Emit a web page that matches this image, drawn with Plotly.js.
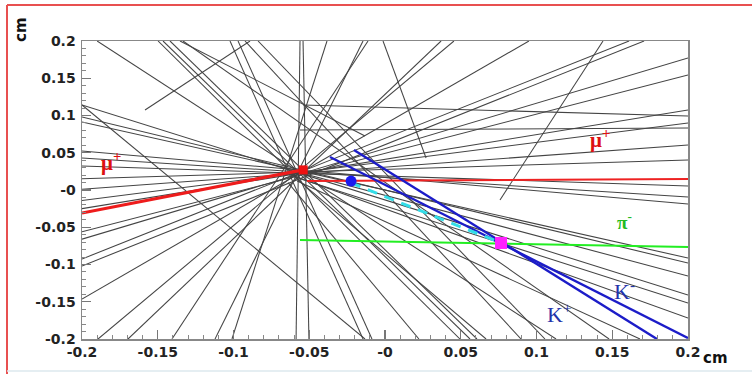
<!DOCTYPE html>
<html>
<head>
<meta charset="utf-8">
<script src="https://cdn.plot.ly/plotly-3.0.1.min.js"></script>
<style>html,body{margin:0;padding:0;background:#fff;}#chart{width:752px;height:374px;}</style>
</head>
<body>
<div id="chart"></div>
<script>
// Background tracks (black), each as a segment x0,y0 -> x1,y1 in cm
var trackX0 = [-0.2, -0.2, -0.2, -0.2, -0.2, -0.2, -0.2, -0.2, -0.2, -0.1894, -0.1696, -0.1406, -0.1010,
  -0.1498, -0.1465, -0.1419, -0.1023, -0.0970, -0.0924, -0.0838, -0.0561, -0.0541, -0.2, -0.2, -0.2, -0.190, -0.1333, -0.2, -0.2, -0.2, -0.2,
  -0.0891, -0.0013, 0.1439, -0.0541, -0.0561, -0.1353,
  -0.0620, -0.0560, -0.0600, -0.0640, -0.0540, -0.0580, -0.0145];
var trackY0 = [-0.1463, -0.1020, -0.0926, -0.0660, -0.0560, -0.0250, -0.0140, 0.0010, 0.0150, -0.2, -0.2, -0.2, -0.2,
  0.2, 0.2, 0.2, 0.2, 0.2, 0.2, 0.2, 0.2, 0.2, 0.1141, 0.0913, 0.0980, 0.2, 0.2, 0.0523, 0.0430, 0.0322, 0.1141,
  0.2, 0.2, 0.2, 0.1141, 0.0805, 0.2,
  0.0200, 0.0150, 0.0180, 0.0100, 0.0220, 0.0120, 0.2];
var trackX1 = [0.0950, 0.1710, 0.1611, 0.2, 0.2, 0.2, 0.2, 0.2, 0.2, 0.0455, 0.0370, -0.0112, -0.0383,
  0.0495, 0.0561, 0.0607, -0.0145, -0.0086, 0.0898, 0.1056, -0.0587, -0.0502, 0.2, 0.2, 0.2, 0.1129, 0.1479, 0.2, 0.2, 0.2, -0.0132,
  -0.1584, 0.0271, 0.0759, 0.2, 0.2, -0.0132,
  0.2, 0.2, 0.0667, 0.0224, 0.2, 0.1683, -0.1122];
var trackY1 = [0.2, 0.2, 0.2, 0.1772, 0.1544, 0.1074, 0.0899, 0.0604, 0.0403, 0.2, 0.2, 0.2, 0.2,
  -0.2, -0.2, -0.2, -0.2, -0.2, -0.2, -0.2, -0.2, -0.2, -0.1409, -0.0913, -0.0980, -0.2, -0.2, -0.0188, -0.0094, 0.0054, -0.2,
  0.1074, 0.0430, -0.0134, 0.0993, 0.0832, 0.0725,
  -0.1718, -0.1517, -0.2, -0.2, -0.1154, -0.2, -0.2];

// Identified tracks
var muLeftX = [-0.2, -0.054];
var muLeftY = [-0.0309, 0.027];
var muRightX = [-0.0515, 0.2];
var muRightY = [0.0121, 0.0148];
var kaon1X = [-0.0363, 0.2];
var kaon1Y = [0.0443, -0.1987];
var kaon2X = [-0.0205, 0.1795];
var kaon2Y = [0.0537, -0.2];
var flightX = [-0.0224, 0.0766];
var flightY = [0.0094, -0.0711];
var pionX = [-0.0561, 0.2];
var pionY = [-0.067, -0.0765];

// Vertices
var primaryVtx = [-0.054, 0.027];
var dVtx = [-0.0224, 0.012];
var decayVtx = [0.0766, -0.0711];

// Labels
var labelText = ['\u03bc<sup>+</sup>', '\u03bc<sup>+</sup>', '\u03c0<sup>-</sup>', 'K<sup>-</sup>', 'K<sup>+</sup>'];
var labelX = [-0.181, 0.142, 0.1584, 0.158, 0.1155];
var labelY = [0.038, 0.069, -0.042, -0.134, -0.165];

var tickVals = [-0.2, -0.15, -0.1, -0.05, 0, 0.05, 0.1, 0.15, 0.2];
var tickText = ['-0.2', '-0.15', '-0.1', '-0.05', '-0', '0.05', '0.1', '0.15', '0.2'];

var bx = [], by = [];
for (var i = 0; i < trackX0.length; i++) {
  bx.push(trackX0[i], trackX1[i], null);
  by.push(trackY0[i], trackY1[i], null);
}

var traces = [
  {x: bx, y: by, mode: 'lines', line: {color: '#444444', width: 1.05}, hoverinfo: 'skip', showlegend: false},
  {x: muLeftX, y: muLeftY, mode: 'lines', line: {color: '#ee1c1c', width: 3.2}, showlegend: false},
  {x: muRightX, y: muRightY, mode: 'lines', line: {color: '#ee2222', width: 2}, showlegend: false},
  {x: pionX, y: pionY, mode: 'lines', line: {color: '#22ee22', width: 2}, showlegend: false},
  {x: kaon1X, y: kaon1Y, mode: 'lines', line: {color: '#1c1cc8', width: 2.4}, showlegend: false},
  {x: kaon2X, y: kaon2Y, mode: 'lines', line: {color: '#1c1cc8', width: 2.4}, showlegend: false},
  {x: flightX, y: flightY, mode: 'lines', line: {color: '#33dde8', width: 3, dash: '10px,8px'}, showlegend: false},
  {x: [primaryVtx[0]], y: [primaryVtx[1]], mode: 'markers', marker: {color: '#ee1111', size: 9, symbol: 'square'}, showlegend: false},
  {x: [dVtx[0]], y: [dVtx[1]], mode: 'markers', marker: {color: '#1a1aee', size: 11, symbol: 'circle'}, showlegend: false},
  {x: [decayVtx[0]], y: [decayVtx[1]], mode: 'markers', marker: {color: '#ff22ff', size: 12, symbol: 'square'}, showlegend: false}
];

var labelColors = ['#dd1111', '#dd1111', '#22bb22', '#2233aa', '#2233aa'];
var labelSizes = [21, 21, 19, 22, 22];
var annotations = [];
for (var j = 0; j < labelText.length; j++) {
  annotations.push({x: labelX[j], y: labelY[j], xref: 'x', yref: 'y', xanchor: 'center', yanchor: 'middle',
    text: labelText[j], showarrow: false,
    font: {family: 'Liberation Serif', size: labelSizes[j], color: labelColors[j], weight: j < 3 ? 700 : 400}});
}
annotations.push({x: (21 - 82) / 606, y: (339 - 30) / 298, xref: 'paper', yref: 'paper', xanchor: 'center', yanchor: 'middle',
  text: 'cm', textangle: -90, showarrow: false, font: {family: 'DejaVu Sans', size: 15, color: '#111', weight: 700}});
annotations.push({x: (716 - 82) / 606, y: (339 - 358) / 298, xref: 'paper', yref: 'paper', xanchor: 'center', yanchor: 'middle',
  text: 'cm', showarrow: false, font: {family: 'DejaVu Sans', size: 15, color: '#111', weight: 700}});

var axisCommon = {
  range: [-0.2, 0.2], tickvals: tickVals, ticktext: tickText, ticks: 'inside', ticklen: 9, tickwidth: 1.2,
  tickcolor: '#777', showgrid: false, zeroline: false, showline: true, mirror: true, linecolor: '#888', linewidth: 1.5,
  tickfont: {family: 'DejaVu Sans', size: 14, color: '#222', weight: 700},
  minor: {dtick: 0.01, ticks: 'inside', ticklen: 4, tickcolor: '#888', tickwidth: 1}
};

var layout = {
  width: 752, height: 374,
  margin: {l: 82, r: 64, t: 41, b: 35},
  paper_bgcolor: '#ffffff', plot_bgcolor: '#ffffff',
  xaxis: Object.assign({}, axisCommon, {ticklabelstandoff: 0}),
  yaxis: Object.assign({}, axisCommon, {ticklabelstandoff: 2}),
  annotations: annotations,
  shapes: [
    {type: 'line', xref: 'paper', yref: 'paper', x0: (7 - 82) / 606, x1: (752 - 82) / 606, y0: (339 - 5) / 298, y1: (339 - 5) / 298,
      line: {color: '#e85050', width: 2}},
    {type: 'line', xref: 'paper', yref: 'paper', x0: (7 - 82) / 606, x1: (7 - 82) / 606, y0: (339 - 5) / 298, y1: (339 - 374) / 298,
      line: {color: '#e85050', width: 2}},
    {type: 'line', xref: 'paper', yref: 'paper', x0: (7 - 82) / 606, x1: (752 - 82) / 606, y0: (339 - 371) / 298, y1: (339 - 371) / 298,
      line: {color: '#dde8ee', width: 1.5}}
  ],
  showlegend: false
};

Plotly.newPlot('chart', traces, layout, {displayModeBar: false, staticPlot: true});
</script>
</body>
</html>
